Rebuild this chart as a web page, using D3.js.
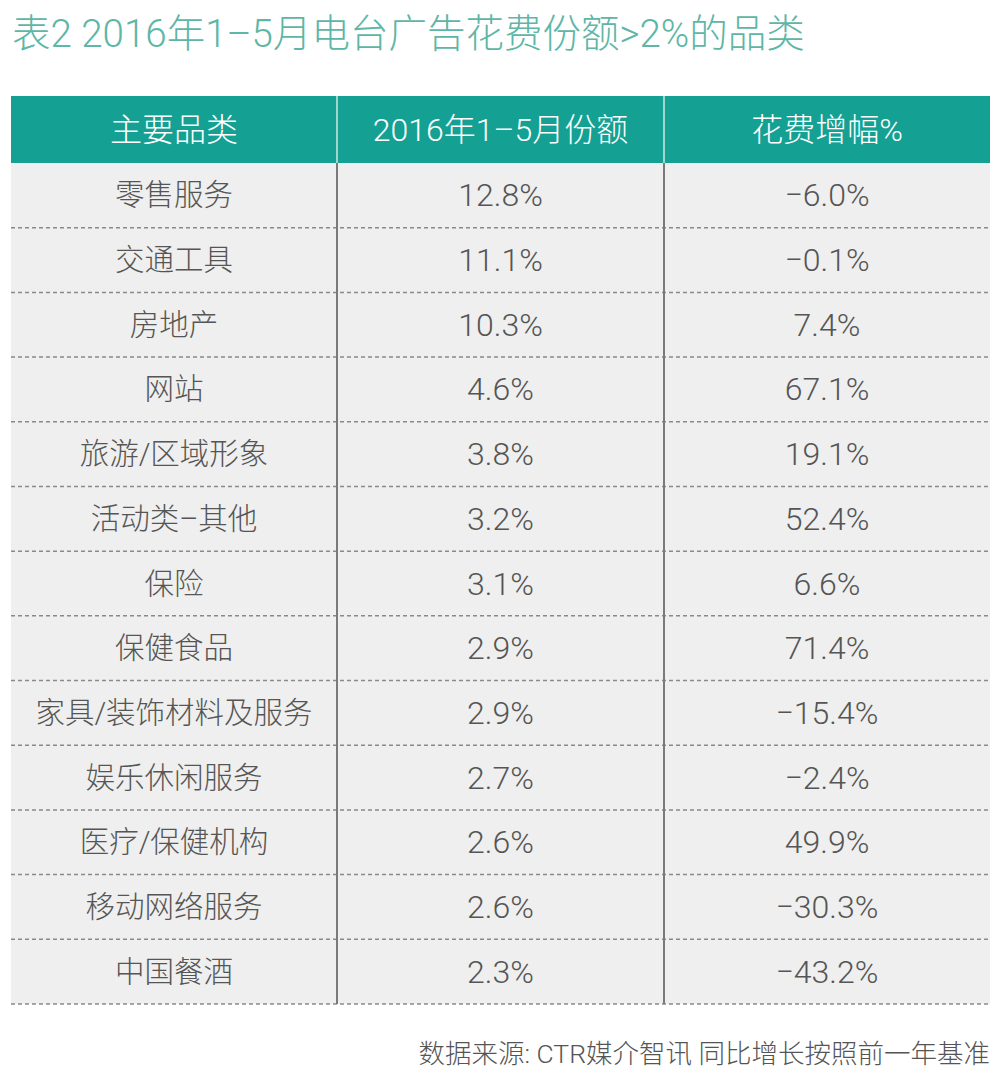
<!DOCTYPE html>
<html>
<head>
<meta charset="utf-8">
<script src="https://cdn.jsdelivr.net/npm/d3@7"></script>
<style>
  body { margin: 0; background: #fff; }
  svg { display: block; }
  text { font-family: "Roboto", "Noto Sans CJK SC", sans-serif; font-weight: 300; }
</style>
</head>
<body>
<svg width="999" height="1080"></svg>
<script>
// table data
const categories = ["零售服务", "交通工具", "房地产", "网站", "旅游/区域形象", "活动类–其他", "保险",
  "保健食品", "家具/装饰材料及服务", "娱乐休闲服务", "医疗/保健机构", "移动网络服务", "中国餐酒"];
const shares = ["12.8%", "11.1%", "10.3%", "4.6%", "3.8%", "3.2%", "3.1%", "2.9%", "2.9%", "2.7%", "2.6%", "2.6%", "2.3%"];
const growth = ["−6.0%", "−0.1%", "7.4%", "67.1%", "19.1%", "52.4%", "6.6%", "71.4%", "−15.4%", "−2.4%", "49.9%", "−30.3%", "−43.2%"];
const headers = ["主要品类", "2016年1–5月份额", "花费增幅%"];

const svg = d3.select("svg");

const left = 11, right = 990, headTop = 96, headBottom = 163, bodyBottom = 1004;
const colEdges = [left, 337, 664, right];

// columns and rows
const colX = i => (colEdges[i] + colEdges[i + 1]) / 2;
const y = d3.scaleBand().domain(d3.range(categories.length)).range([headBottom, bodyBottom]);

// title
svg.append("text")
  .attr("x", 12).attr("y", 33)
  .attr("dominant-baseline", "central")
  .attr("font-size", 38.5)
  .attr("fill", "#5db6a6")
  .text("表2 2016年1–5月电台广告花费份额>2%的品类");

// header
svg.append("rect")
  .attr("x", left).attr("y", headTop)
  .attr("width", right - left).attr("height", headBottom - headTop)
  .attr("fill", "#14a194");

svg.selectAll(".hdiv")
  .data([1, 2])
  .join("line")
  .attr("x1", i => colEdges[i]).attr("x2", i => colEdges[i])
  .attr("y1", headTop).attr("y2", headBottom)
  .attr("stroke", "#cfe9e5").attr("stroke-width", 1.5);

svg.selectAll(".htext")
  .data(headers)
  .join("text")
  .attr("x", (d, i) => colX(i))
  .attr("y", (headTop + headBottom) / 2)
  .attr("text-anchor", "middle")
  .attr("dominant-baseline", "central")
  .attr("font-size", 32)
  .attr("fill", "#fff")
  .text(d => d);

// body background
svg.append("rect")
  .attr("x", left).attr("y", headBottom)
  .attr("width", right - left).attr("height", bodyBottom - headBottom)
  .attr("fill", "#eeefee");

// dashed row lines
svg.selectAll(".rline")
  .data(d3.range(categories.length))
  .join("line")
  .attr("x1", left).attr("x2", right)
  .attr("y1", i => y(i) + y.bandwidth()).attr("y2", i => y(i) + y.bandwidth())
  .attr("stroke", "#8a8a8a").attr("stroke-width", 1.5)
  .attr("stroke-dasharray", "4,3");

// vertical dividers
svg.selectAll(".vdiv")
  .data([1, 2])
  .join("line")
  .attr("x1", i => colEdges[i]).attr("x2", i => colEdges[i])
  .attr("y1", headBottom).attr("y2", bodyBottom)
  .attr("stroke", "#7a7a7a").attr("stroke-width", 2);

// cells
const rows = categories.map((c, i) => [c, shares[i], growth[i]]);
rows.forEach((r, i) => {
  svg.selectAll(".cell" + i)
    .data(r)
    .join("text")
    .attr("x", (d, j) => colX(j))
    .attr("y", y(i) + y.bandwidth() / 2)
    .attr("text-anchor", "middle")
    .attr("dominant-baseline", "central")
    .attr("font-size", (d, j) => j === 0 ? 29.5 : 32)
    .attr("fill", "#555")
    .text(d => d);
});

// footer
svg.append("text")
  .attr("x", 990).attr("y", 1053)
  .attr("text-anchor", "end")
  .attr("dominant-baseline", "central")
  .attr("font-size", 26.5)
  .attr("fill", "#555")
  .text("数据来源: CTR媒介智讯 同比增长按照前一年基准");
</script>
</body>
</html>
